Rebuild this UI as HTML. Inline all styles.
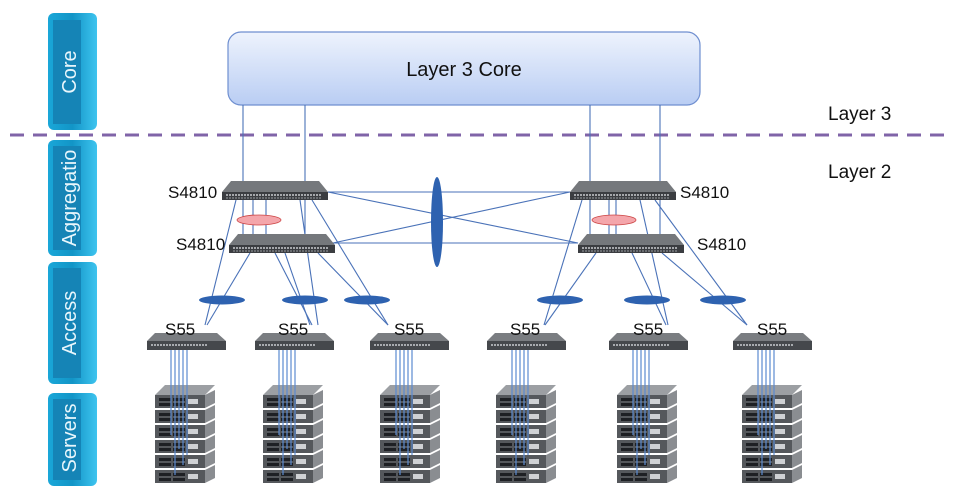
<!DOCTYPE html>
<html><head><meta charset="utf-8"><style>
html,body{margin:0;padding:0;background:#fff}
svg{display:block}
text{font-family:"Liberation Sans",sans-serif}
</style></head><body>
<svg width="957" height="500" viewBox="0 0 957 500" xmlns="http://www.w3.org/2000/svg">
<defs>
<linearGradient id="cg" x1="0" y1="0" x2="0" y2="1"><stop offset="0" stop-color="#eef3fd"/><stop offset="1" stop-color="#b9cdf3"/></linearGradient>
<linearGradient id="bar" x1="0" y1="0" x2="1" y2="0"><stop offset="0" stop-color="#1aa7d8"/><stop offset="0.5" stop-color="#1295c7"/><stop offset="1" stop-color="#3ec4ef"/></linearGradient>
<g id="sw">
<polygon points="0,11 9,0 97,0 106,11" fill="#75787c"/>
<rect x="0" y="11" width="106" height="8" fill="#3b3d41"/>
<line x1="4" y1="14" x2="100" y2="14" stroke="#c9ccd0" stroke-width="1.5" stroke-dasharray="2,1"/>
<line x1="4" y1="17" x2="100" y2="17" stroke="#9a9da1" stroke-width="1" stroke-dasharray="2,1"/>
</g>
<g id="s55">
<polygon points="0,8 8,0 70,0 79,8" fill="#7a7d81"/>
<rect x="0" y="8" width="79" height="9" fill="#45484c"/>
<line x1="4" y1="12" x2="60" y2="12" stroke="#c9ccd0" stroke-width="1.5" stroke-dasharray="2,1"/>
</g>
<g id="unit">
<rect x="0" y="0" width="50" height="13" fill="#55585c"/>
<polygon points="50,0 60,-5 60,8 50,13" fill="#8a8d91"/>
<rect x="4" y="3" width="12" height="3" fill="#1e2024"/><rect x="18" y="3" width="12" height="3" fill="#1e2024"/>
<rect x="4" y="8" width="12" height="3" fill="#1e2024"/><rect x="18" y="8" width="12" height="3" fill="#1e2024"/>
<rect x="33" y="4" width="10" height="5" fill="#cfd1d4"/>
</g>
<g id="stack">
<polygon points="0,10 10,0 60,0 50,10" fill="#9c9fa3"/>
<use href="#unit" x="0" y="10"/><use href="#unit" x="0" y="25"/><use href="#unit" x="0" y="40"/>
<use href="#unit" x="0" y="55"/><use href="#unit" x="0" y="70"/><use href="#unit" x="0" y="85"/>
<g stroke="#5b8ad0" stroke-width="1.2"><line x1="16" y1="-35" x2="16" y2="50"/><line x1="20" y1="-35" x2="20" y2="90"/><line x1="24" y1="-35" x2="24" y2="64"/><line x1="28" y1="-35" x2="28" y2="80"/><line x1="32" y1="-35" x2="32" y2="70"/></g>
</g>
</defs>

<!-- side bars -->
<g>
<rect x="48" y="13" width="49" height="117" rx="6" fill="url(#bar)"/>
<rect x="53" y="20" width="28" height="104" fill="#1584b6"/>
<rect x="48" y="140" width="49" height="116" rx="6" fill="url(#bar)"/>
<rect x="53" y="146" width="28" height="104" fill="#1584b6"/>
<rect x="48" y="262" width="49" height="122" rx="6" fill="url(#bar)"/>
<rect x="53" y="268" width="28" height="110" fill="#1584b6"/>
<rect x="48" y="393" width="49" height="93" rx="6" fill="url(#bar)"/>
<rect x="53" y="399" width="28" height="81" fill="#1584b6"/>
<g fill="#e8f6fc" font-size="20">
<text transform="translate(76,72) rotate(-90)" text-anchor="middle">Core</text>
<text transform="translate(76,198) rotate(-90)" text-anchor="middle">Aggregatio</text>
<text transform="translate(76,323) rotate(-90)" text-anchor="middle">Access</text>
<text transform="translate(76,438) rotate(-90)" text-anchor="middle">Servers</text>
</g>
</g>

<!-- core -->
<rect x="228" y="32" width="472" height="73" rx="13" fill="url(#cg)" stroke="#6f8fd0" stroke-width="1.2"/>
<text x="464" y="76" font-size="20" text-anchor="middle" fill="#111">Layer 3 Core</text>

<line x1="10" y1="135" x2="945" y2="135" stroke="#8064a8" stroke-width="3" stroke-dasharray="14,9"/>
<text x="828" y="120" font-size="19" fill="#111">Layer 3</text>
<text x="828" y="178" font-size="19" fill="#111">Layer 2</text>

<g stroke="#4a72b8" stroke-width="1.1" fill="none">
<line x1="243" y1="105" x2="243" y2="245"/><line x1="305" y1="105" x2="305" y2="245"/>
<line x1="590" y1="105" x2="590" y2="245"/><line x1="660" y1="105" x2="660" y2="242"/>
<line x1="328" y1="192" x2="570" y2="192"/><line x1="328" y1="192" x2="578" y2="243"/>
<line x1="333" y1="243" x2="570" y2="192"/><line x1="333" y1="243" x2="578" y2="243"/>
<line x1="253" y1="200" x2="253" y2="236"/><line x1="266" y1="200" x2="266" y2="236"/>
<line x1="609" y1="200" x2="609" y2="236"/><line x1="616" y1="200" x2="616" y2="236"/>
<!-- left agg to access -->
<line x1="236" y1="200" x2="205" y2="325"/><line x1="300" y1="200" x2="318" y2="325"/><line x1="312" y1="200" x2="388" y2="325"/>
<line x1="250" y1="253" x2="207" y2="325"/><line x1="275" y1="253" x2="312" y2="325"/><line x1="285" y1="253" x2="310" y2="325"/><line x1="318" y1="253" x2="388" y2="325"/>
<!-- right agg to access -->
<line x1="582" y1="200" x2="544" y2="325"/><line x1="640" y1="200" x2="668" y2="325"/><line x1="655" y1="200" x2="747" y2="325"/>
<line x1="596" y1="253" x2="545" y2="325"/><line x1="632" y1="253" x2="666" y2="325"/><line x1="662" y1="253" x2="747" y2="325"/>
</g>

<use href="#sw" x="222" y="181"/><use href="#sw" x="229" y="234"/>
<use href="#sw" x="570" y="181"/><use href="#sw" x="578" y="234"/>
<ellipse cx="259" cy="220" rx="22" ry="5" fill="#f4a6ab" stroke="#c44" stroke-width="0.8"/>
<ellipse cx="614" cy="220" rx="22" ry="5" fill="#f4a6ab" stroke="#c44" stroke-width="0.8"/>
<ellipse cx="437" cy="222" rx="6" ry="45" fill="#2e62b0"/>
<g fill="#111" font-size="17">
<text x="168" y="198">S4810</text><text x="176" y="250">S4810</text>
<text x="680" y="198">S4810</text><text x="697" y="250">S4810</text>
</g>

<g fill="#2e62b0">
<ellipse cx="222" cy="300" rx="23" ry="4.5"/><ellipse cx="305" cy="300" rx="23" ry="4.5"/><ellipse cx="367" cy="300" rx="23" ry="4.5"/>
<ellipse cx="560" cy="300" rx="23" ry="4.5"/><ellipse cx="647" cy="300" rx="23" ry="4.5"/><ellipse cx="723" cy="300" rx="23" ry="4.5"/>
</g>

<use href="#stack" x="155" y="385"/><use href="#stack" x="263" y="385"/><use href="#stack" x="380" y="385"/>
<use href="#stack" x="496" y="385"/><use href="#stack" x="617" y="385"/><use href="#stack" x="742" y="385"/>

<use href="#s55" x="147" y="333"/><use href="#s55" x="255" y="333"/><use href="#s55" x="370" y="333"/>
<use href="#s55" x="487" y="333"/><use href="#s55" x="609" y="333"/><use href="#s55" x="733" y="333"/>
<g fill="#111" font-size="17">
<text x="165" y="335">S55</text><text x="278" y="335">S55</text><text x="394" y="335">S55</text>
<text x="510" y="335">S55</text><text x="633" y="335">S55</text><text x="757" y="335">S55</text>
</g>
</svg>
</body></html>
